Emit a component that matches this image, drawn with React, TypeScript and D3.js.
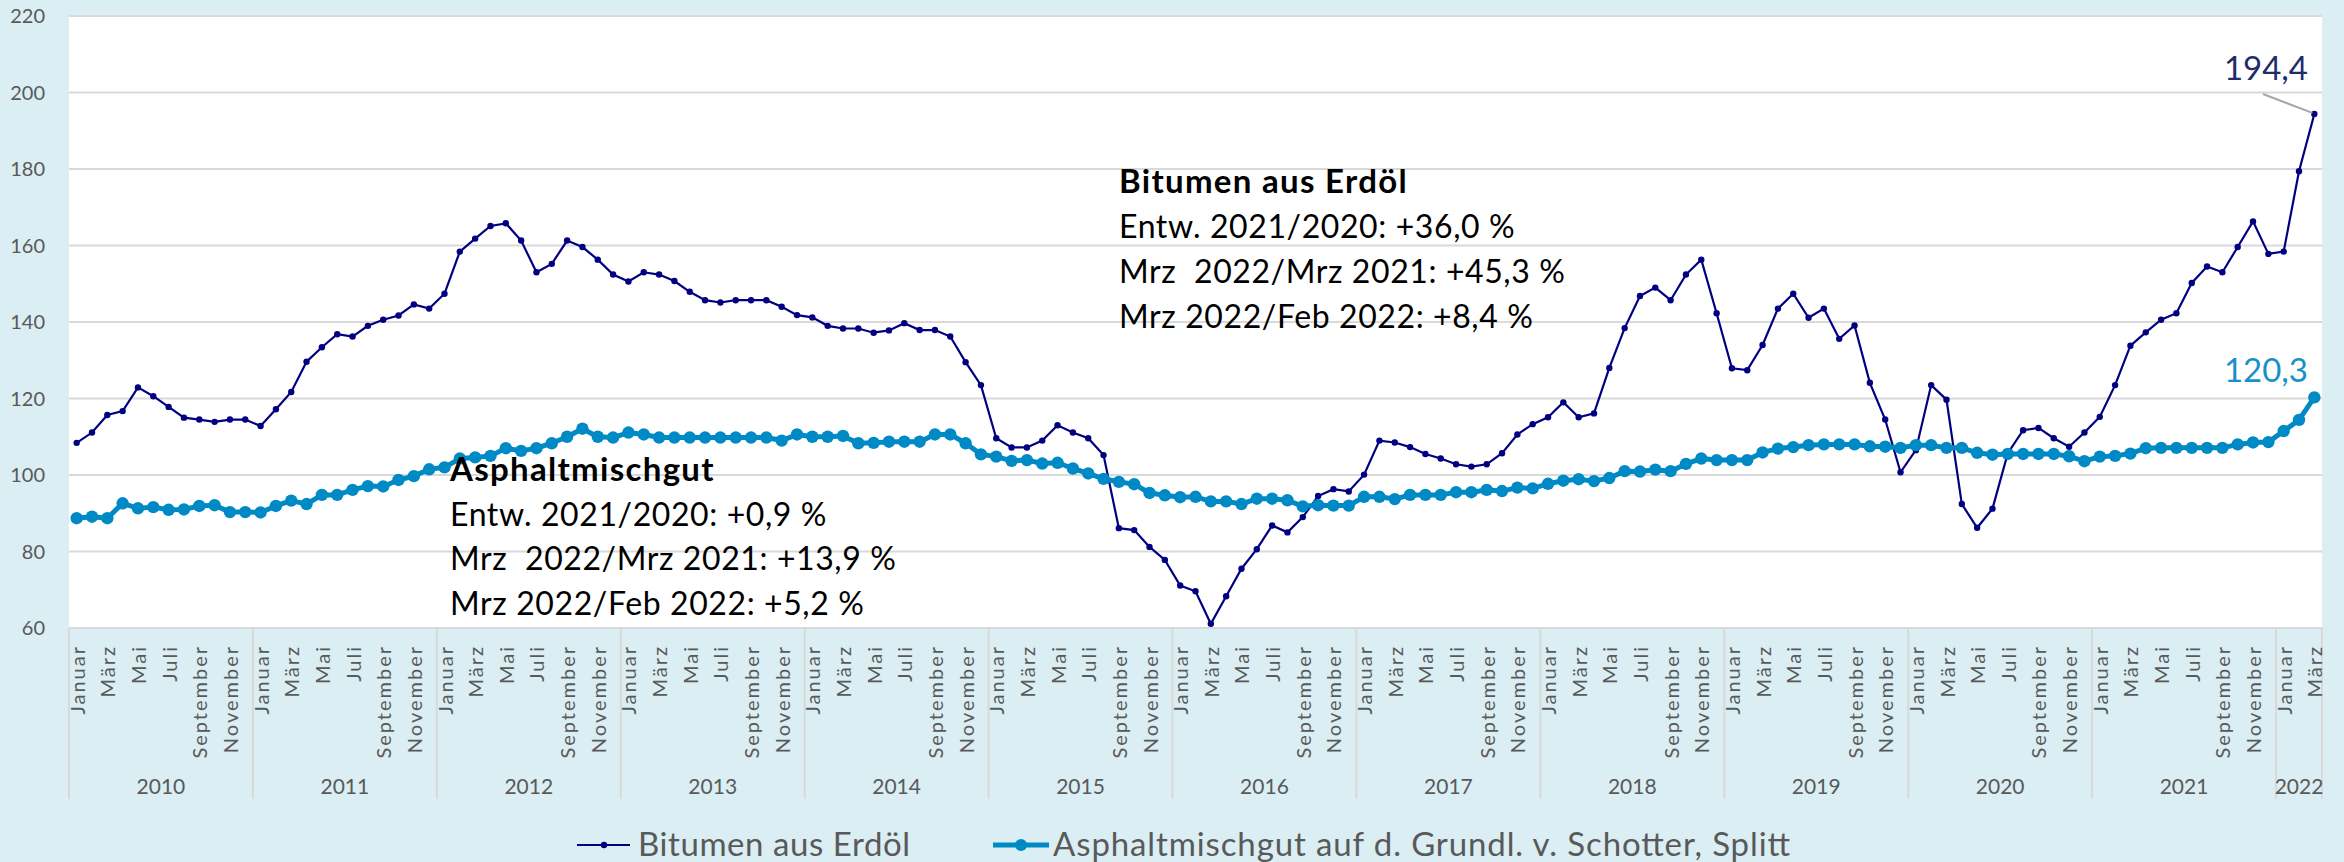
import React from "react";
import * as d3 from "d3";

const monthNames = ["Januar","Februar","März","April","Mai","Juni","Juli","August","September","Oktober","November","Dezember"];
const years = [2010,2011,2012,2013,2014,2015,2016,2017,2018,2019,2020,2021,2022];
const yTicks = [60,80,100,120,140,160,180,200,220];

const bitumen = [
  108.4,111.1,115.7,116.7,122.9,120.6,117.8,115.0,114.5,113.9,114.5,114.5,
  112.8,117.2,121.7,129.6,133.4,136.8,136.2,139.0,140.6,141.7,144.6,143.5,
  147.4,158.4,161.8,165.1,165.8,161.3,153.0,155.2,161.3,159.6,156.3,152.4,
  150.6,153.0,152.4,150.7,147.9,145.7,145.1,145.7,145.7,145.7,144.0,141.8,
  141.2,139.0,138.3,138.3,137.2,137.8,139.7,137.9,137.9,136.2,129.5,123.5,
  109.6,107.2,107.2,109.0,113.0,111.1,109.6,105.2,86.1,85.6,81.2,77.8,
  71.1,69.6,61.1,68.3,75.5,80.6,86.8,85.0,89.0,94.5,96.3,95.7,
  100.1,109.0,108.5,107.3,105.5,104.3,102.8,102.2,102.8,105.7,110.6,113.3,
  115.1,119.0,115.1,116.1,128.0,138.4,146.8,149.0,145.7,152.4,156.3,142.3,
  127.9,127.4,134.0,143.5,147.4,141.1,143.5,135.6,139.1,124.1,114.5,100.7,
  106.5,123.5,119.7,92.4,86.2,91.2,105.7,111.7,112.3,109.6,107.4,111.1,
  115.2,123.5,133.8,137.3,140.6,142.3,150.2,154.5,153.0,159.6,166.3,157.8,
  158.4,179.4,194.4
];

const asphalt = [
  88.7,89.1,88.7,92.6,91.3,91.6,90.9,91.0,91.9,92.1,90.3,90.3,
  90.2,91.9,93.3,92.4,94.8,94.8,96.1,97.1,97.0,98.7,99.7,101.5,
  102.0,104.3,104.6,105.0,107.0,106.3,107.0,108.3,110.0,112.1,110.0,109.8,
  111.1,110.6,109.8,109.8,109.8,109.8,109.8,109.8,109.8,109.8,109.0,110.6,
  110.0,110.0,110.2,108.3,108.4,108.7,108.7,108.7,110.6,110.6,108.3,105.4,
  104.8,103.7,103.9,103.0,103.2,101.7,100.4,99.0,98.2,97.6,95.3,94.7,
  94.2,94.3,93.1,93.1,92.4,93.8,93.8,93.4,91.8,92.1,92.0,92.0,
  94.3,94.3,93.7,94.8,94.8,94.8,95.5,95.5,96.1,95.8,96.7,96.5,
  97.7,98.5,98.9,98.4,99.2,101.0,100.9,101.4,101.0,102.9,104.3,103.9,
  103.9,103.9,105.9,106.9,107.3,107.8,108.0,108.0,108.0,107.5,107.4,107.1,
  107.8,107.8,107.1,107.1,105.8,105.3,105.5,105.5,105.5,105.5,104.9,103.6,
  104.8,105.0,105.6,107.0,107.1,107.1,107.1,107.1,107.1,108.0,108.5,108.6,
  111.5,114.4,120.3
];

const seriesNames = ["Bitumen aus Erdöl", "Asphaltmischgut auf d. Grundl. v. Schotter, Splitt"];
const bitumenNotes = ["Bitumen aus Erdöl", "Entw. 2021/2020: +36,0 %", "Mrz  2022/Mrz 2021: +45,3 %", "Mrz 2022/Feb 2022: +8,4 %"];
const asphaltNotes = ["Asphaltmischgut", "Entw. 2021/2020: +0,9 %", "Mrz  2022/Mrz 2021: +13,9 %", "Mrz 2022/Feb 2022: +5,2 %"];
const lastLabels = ["194,4", "120,3"];

const W = 2344, H = 862;
const plot = { left: 69, right: 2322, top: 16, bottom: 628 };
const BG = "#DAEEF3";
const GRID = "#D9D9D9";
const NAVY = "#000080";
const TEAL = "#008AC5";
const FONT = "Lato, 'Open Sans', sans-serif";

export default function App() {
  const cats = d3.range(bitumen.length);
  const x = d3.scaleBand<number>().domain(cats).range([plot.left, plot.right]).padding(0);
  const bw = x.bandwidth();
  const cx = (i: number) => (x(i) as number) + bw / 2;
  const y = d3.scaleLinear().domain([60, 220]).range([plot.bottom, plot.top]);
  const line = d3.line<number>().x((_, i) => cx(i)).y((d) => y(d));

  const lastI = bitumen.length - 1;
  const pre = { whiteSpace: "pre" as const };

  return (
    <svg width={W} height={H} style={{ display: "block", position: "absolute", left: 0, top: 0 }} fontFamily={FONT}>
      <rect x={0} y={0} width={W} height={H} fill={BG} />
      <rect x={plot.left} y={plot.top} width={plot.right - plot.left} height={plot.bottom - plot.top} fill="#fff" />
      {yTicks.map((t) => (
        <g key={t}>
          <line x1={plot.left} x2={plot.right} y1={y(t)} y2={y(t)} stroke={GRID} strokeWidth={2} />
          <text x={45} y={y(t)} dy="0.36em" textAnchor="end" fontSize={20} fill="#595959">{t}</text>
        </g>
      ))}
      {years.map((yr, k) => {
        const start = k * 12;
        const end = Math.min(start + 12, bitumen.length);
        const x0 = x(start) as number;
        const x1 = end >= bitumen.length ? plot.right : (x(end) as number);
        return (
          <g key={yr}>
            <line x1={x0} x2={x0} y1={plot.bottom} y2={799} stroke={GRID} strokeWidth={2} />
            {end >= bitumen.length && <line x1={x1} x2={x1} y1={plot.bottom} y2={799} stroke={GRID} strokeWidth={2} />}
            <text x={(x0 + x1) / 2} y={794} textAnchor="middle" fontSize={21} fill="#595959">{yr}</text>
          </g>
        );
      })}
      {cats.map((i) => {
        const m = i % 12;
        if (m % 2 !== 0) return null;
        return (
          <text key={i} transform={`translate(${cx(i) + 8},645) rotate(-90)`} textAnchor="end" fontSize={20} letterSpacing={2} fill="#595959">
            {monthNames[m]}
          </text>
        );
      })}
      <path d={line(bitumen) as string} fill="none" stroke={NAVY} strokeWidth={2.2} />
      {bitumen.map((v, i) => (
        <circle key={"b" + i} cx={cx(i)} cy={y(v)} r={3.2} fill={NAVY} />
      ))}
      <path d={line(asphalt) as string} fill="none" stroke={TEAL} strokeWidth={5} strokeLinejoin="round" />
      {asphalt.map((v, i) => (
        <circle key={"a" + i} cx={cx(i)} cy={y(v)} r={6.2} fill={TEAL} />
      ))}
      <line x1={2263} y1={94} x2={cx(lastI) - 2} y2={y(bitumen[lastI]) - 1} stroke="#A6A6A6" strokeWidth={2} />
      <text x={2308} y={80} textAnchor="end" fontSize={33} fill="#1F2D6B">{lastLabels[0]}</text>
      <text x={2308} y={382} textAnchor="end" fontSize={33} fill="#1890C8">{lastLabels[1]}</text>
      {bitumenNotes.map((t, i) => (
        <text key={"bn" + i} x={1119} y={193 + i * 45} fontSize={i === 0 ? 33 : 32} letterSpacing={i === 0 ? 1.3 : 0.6} fontWeight={i === 0 ? 700 : 400} fill="#000" xmlSpace="preserve" style={pre}>{t}</text>
      ))}
      {asphaltNotes.map((t, i) => (
        <text key={"an" + i} x={450} y={481 + i * 44.5} fontSize={i === 0 ? 33 : 32} letterSpacing={i === 0 ? 1.3 : 0.6} fontWeight={i === 0 ? 700 : 400} fill="#000" xmlSpace="preserve" style={pre}>{t}</text>
      ))}
      <g>
        <line x1={577} x2={630} y1={845} y2={845} stroke={NAVY} strokeWidth={2.2} />
        <circle cx={604} cy={845} r={3.2} fill={NAVY} />
        <text x={638} y={856} fontSize={33} fill="#595959" textLength={272} lengthAdjust="spacing">{seriesNames[0]}</text>
        <line x1={993} x2={1049} y1={845} y2={845} stroke={TEAL} strokeWidth={5} />
        <circle cx={1021} cy={845} r={6} fill={TEAL} />
        <text x={1053} y={856} fontSize={33} fill="#595959" textLength={737} lengthAdjust="spacing">{seriesNames[1]}</text>
      </g>
    </svg>
  );
}
